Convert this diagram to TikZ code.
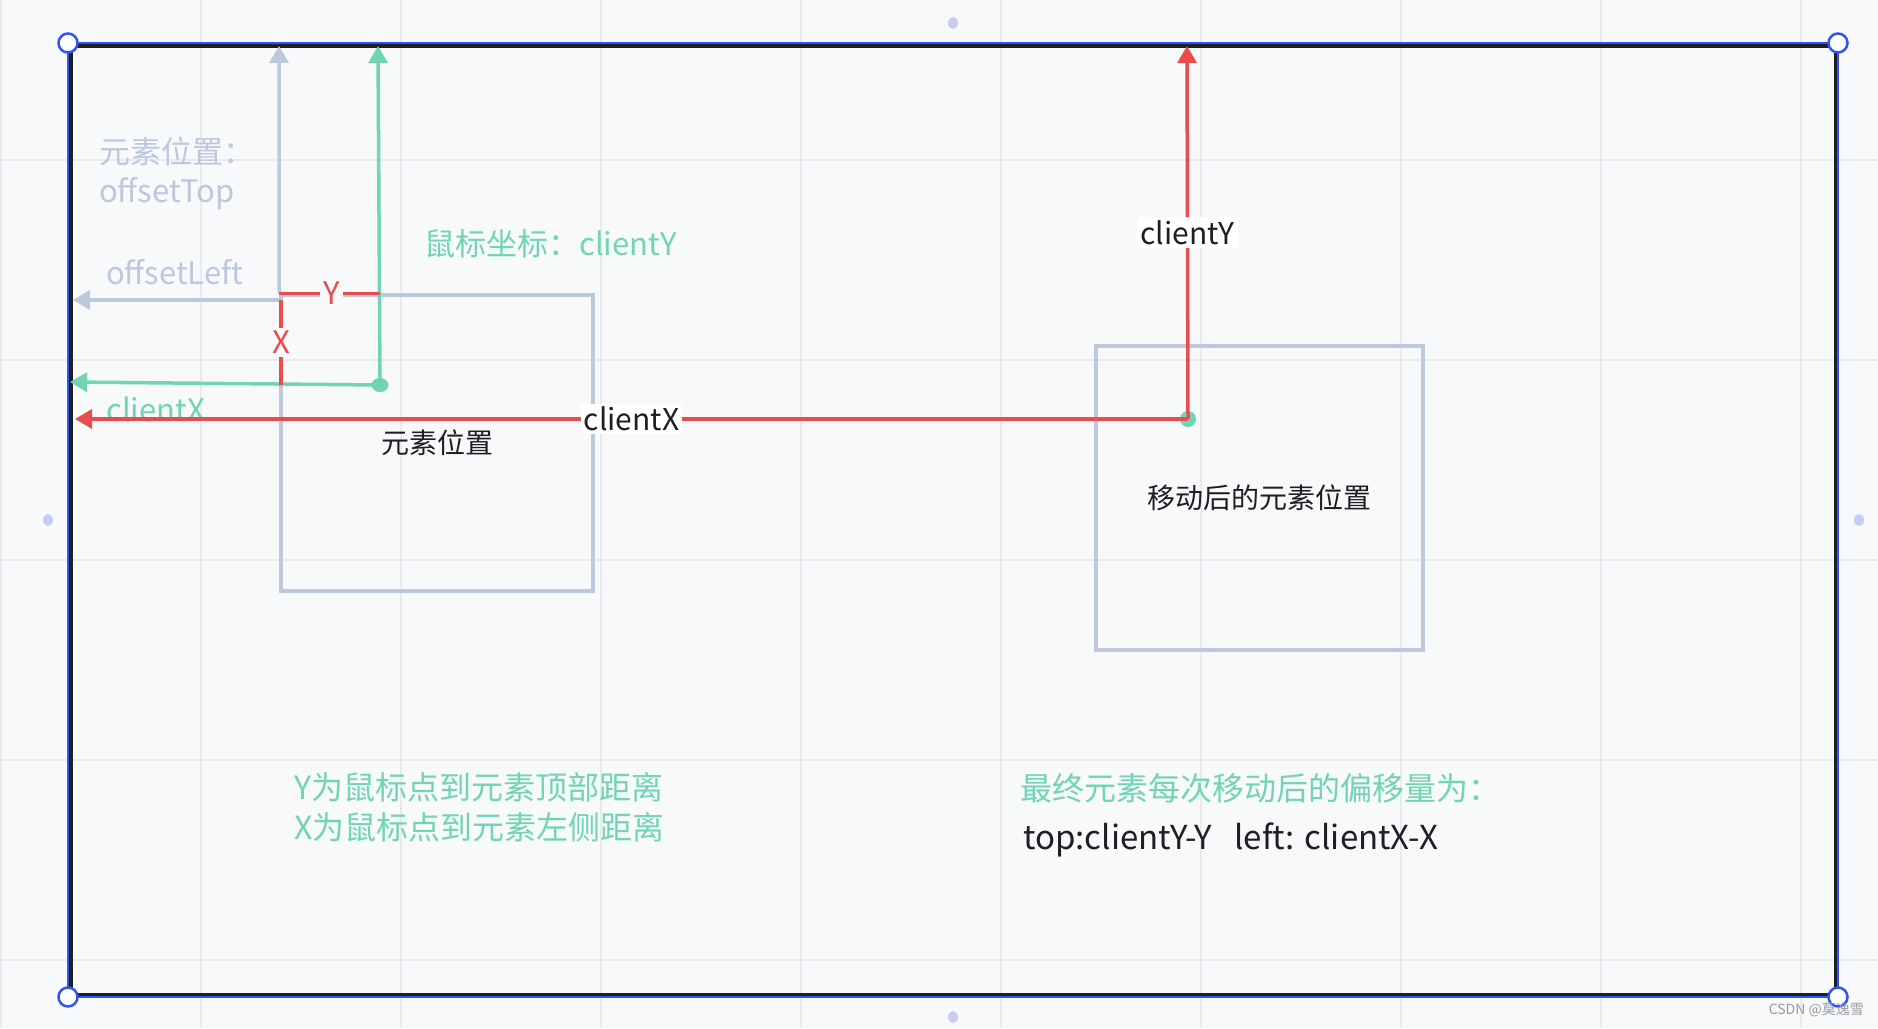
\documentclass[tikz,border=0pt]{standalone}
\usepackage{fontspec}
\setmainfont{Noto Sans CJK SC}
\usetikzlibrary{arrows.meta}
\usetikzlibrary{positioning}

\definecolor{bgpage}{HTML}{F7F9FB}
\definecolor{gridline}{HTML}{E8EAED}
\definecolor{elgray}{HTML}{BCC8DB}
\definecolor{mousegreen}{HTML}{71D4B5}
\definecolor{distred}{HTML}{E84C4B}
\definecolor{selblue}{HTML}{3352F2}
\definecolor{handle}{HTML}{C5CDF6}
\definecolor{txtdark}{HTML}{1E1F22}

\tikzset{
    elbox/.style={draw=elgray, line width=3.5pt, text=txtdark, font=\fontsize{28}{32}\selectfont},
    conn/.style={line width=3.5pt, -{Triangle[length=17pt,width=19pt]}},
    seg/.style={line width=3.5pt},
    graytext/.style={text=elgray, anchor=west, inner sep=0pt, font=\fontsize{31}{36}\selectfont},
    greentext/.style={text=mousegreen, anchor=west, inner sep=0pt, font=\fontsize{31}{36}\selectfont},
    notetext/.style={text=mousegreen, anchor=west, inner sep=0pt, font=\fontsize{32}{38}\selectfont},
    redlabel/.style={text=distred, fill=bgpage, inner sep=3pt, font=\fontsize{31}{36}\selectfont},
    blacklabel/.style={text=txtdark, fill=white, inner sep=3pt, font=\fontsize{30}{34}\selectfont},
}

\begin{document}
\begin{tikzpicture}[x=1pt, y=-1pt]
    \useasboundingbox (0,0) rectangle (1878,1028);
    \fill[bgpage] (0,0) rectangle (1878,1028);
    % canvas grid
    \foreach \gx in {1,201,...,1801}
        \draw[gridline, line width=1.5pt] (\gx,0) -- (\gx,1028);
    \foreach \gy in {160,360,...,960}
        \draw[gridline, line width=1.5pt] (0,\gy) -- (1878,\gy);

    % frame (selected)
    \draw[txtdark, line width=3.5pt] (71,46) rectangle (1836,995);
    \draw[selblue, line width=2.5pt] (68,43) rectangle (1838,997);
    \foreach \cx/\cy in {68/43, 1838/43, 68/997, 1838/997}
        \draw[selblue, fill=white, line width=2.5pt] (\cx,\cy) circle (9.5pt);
    \foreach \hx/\hy in {953/23, 48/520, 1859/520, 953/1017}
        \fill[handle] (\hx,\hy) ellipse (5pt and 6pt);

    % element before and after the move
    \node[elbox, minimum width=312pt, minimum height=296pt] (oldpos) at (437,443) {元素位置};
    \node[elbox, minimum width=327pt, minimum height=304pt] (newpos) at (1259.5,498) {移动后的元素位置};

    \coordinate (mouse) at (380,385);
    \coordinate (newmouse) at (1188,419);
    \coordinate (offCorner) at (281,300);
    \coordinate (offTop) at (279,46);
    \coordinate (offLeft) at (73,300);
    \coordinate (cYtip) at (378,46);
    \coordinate (cXtip) at (70,382);
    \coordinate (newYtip) at (1187,46);
    \coordinate (newXtip) at (75,419);

    % offsetTop / offsetLeft
    \draw[conn, elgray] (oldpos.north west) -- (offTop);
    \draw[conn, elgray] (offCorner) -- (offLeft);
    \node[graytext] (elemTitle) at (99,152) {元素位置：};
    \node[graytext] (offTopText) at (99,194) {offsetTop};
    \node[graytext] (offLeftText) at (106,272) {offsetLeft};

    % mouse clientX / clientY
    \draw[conn, mousegreen] (mouse) -- (cYtip);
    \draw[conn, mousegreen] (mouse) -- (cXtip);
    \fill[mousegreen] (mouse) ellipse (8.5pt and 7pt);
    \node[greentext] (mouseTitle) at (424,244) {鼠标坐标：clientY};
    \node[greentext] (cXText) at (106,409) {clientX};

    % X and Y inside the element
    \draw[seg, distred] (oldpos.north west) -- node[redlabel, pos=0.52] (yLabel) {Y} (mouse |- oldpos.north);
    \draw[seg, distred] (offCorner) -- node[redlabel] (xLabel) {X} (offCorner |- mouse);

    % after the move
    \fill[mousegreen] (newmouse) circle (8pt);
    \draw[conn, distred] (newmouse) -- node[blacklabel] (newXLabel) {clientX} (newXtip);
    \draw[conn, distred] (newmouse) -- node[blacklabel] (newYLabel) {clientY} (newYtip);

    % notes
    \node[notetext] (noteY) at (294,787) {Y为鼠标点到元素顶部距离};
    \node[notetext] (noteX) at (294,827) {X为鼠标点到元素左侧距离};
    \node[notetext] (resultTitle) at (1020,788) {最终元素每次移动后的偏移量为：};
    \node[anchor=west, inner sep=0pt, text=txtdark, font=\fontsize{33}{38}\selectfont] (resultText) at (1023,840) {top:clientY-Y\hspace{22pt}left: clientX-X};

    \node[anchor=east, inner sep=0pt, text=black!40, font=\fontsize{14}{16}\selectfont] (mark) at (1864,1010) {CSDN @莫逸雪};
\end{tikzpicture}
\end{document}
